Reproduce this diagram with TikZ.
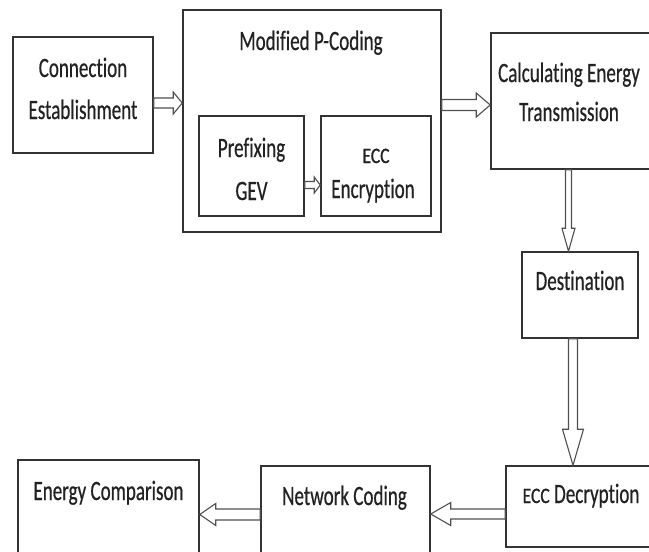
\documentclass[tikz,border=0pt]{standalone}
\usepackage{fontspec}
\setmainfont{Carlito}[FakeStretch=0.68, FakeBold=0.5, Ligatures=NoCommon]
\newfontfamily\eccfont{Carlito}[FakeStretch=0.8, FakeBold=0.9, Ligatures=NoCommon]
\usetikzlibrary{calc}
\definecolor{boxline}{HTML}{333333}
\definecolor{arrline}{HTML}{505050}
\definecolor{txtcol}{HTML}{222222}
\tikzset{
  box/.style={draw=boxline, line width=1.5pt, rectangle, inner sep=0pt},
  txt/.style={anchor=base, inner sep=0pt, text=txtcol, font=\fontsize{28}{34}\selectfont},
  blockarrow/.style={draw=arrline, fill=white, line width=1.1pt, line join=miter},
}
\newcommand\eccw{{\eccfont\fontsize{22}{26}\selectfont ECC}}
% #1 start, #2 tip, #3 shaft half width, #4 head half width, #5 head length
\newcommand\blockarr[5]{%
  \coordinate (hb) at ($(#2)!#5!(#1)$);
  \draw[blockarrow] ($(#1)!#3!90:(#2)$) -- ($(hb)!#3!-90:(#1)$) -- ($(hb)!#4!-90:(#1)$)
    -- (#2) -- ($(hb)!#4!90:(#1)$) -- ($(hb)!#3!90:(#1)$) -- ($(#1)!#3!-90:(#2)$) -- cycle;
}
\begin{document}
\begin{tikzpicture}[x=1pt,y=-1pt]
\useasboundingbox (0,0) rectangle (649,552);
\clip (0,0) rectangle (649,552);
\fill[white] (0,0) rectangle (649,552);

% boxes
\node[box, minimum width=140pt, minimum height=116pt] (ce) at (83,95) {};
\node[box, minimum width=258pt, minimum height=222pt] (mpc) at (312,121) {};
\node[box, minimum width=105pt, minimum height=100pt] (pg) at (251.5,166) {};
\node[box, minimum width=110pt, minimum height=100pt] (ee) at (376,166) {};
\node[box, minimum width=160pt, minimum height=136pt] (cet) at (571,101) {};
\node[box, minimum width=116pt, minimum height=86pt] (dest) at (580,295) {};
\node[box, minimum width=152pt, minimum height=81pt] (dec) at (582,506.5) {};
\node[box, minimum width=169pt, minimum height=100pt] (nc) at (345.5,516) {};
\node[box, minimum width=181pt, minimum height=106pt] (ec) at (108.5,513) {};

% texts
\node[txt] (ce1) at (83,77) {Connection};
\node[txt] (ce2) at (83,119) {Establishment};
\node[txt] (mpc1) at (311,50) {Modified P-Coding};
\node[txt] (pg1) at (251.5,157) {Prefixing};
\node[txt] (pg2) at (251.5,200) {GEV};
\node[txt] (ee1) at (376,163) {\eccw};
\node[txt] (ee2) at (373,198) {Encryption};
\node[txt] (cet1) at (569,82) {Calculating Energy};
\node[txt] (cet2) at (569,121) {Transmission};
\node[txt] (dest1) at (580,290) {Destination};
\node[txt] (dec1) at (581,503) {\eccw\ Decryption};
\node[txt] (nc1) at (344.5,505) {Network Coding};
\node[txt] (ec1) at (108.5,500) {Energy Comparison};

% helper levels
\coordinate (l1) at (0,103);
\coordinate (l2) at (0,105);
\coordinate (l3) at (0,185);
\coordinate (l4) at (568.5,0);
\coordinate (l5) at (573,0);
\coordinate (l6) at (0,514);
\coordinate (l7) at (0,514.5);

\coordinate (a1s) at (ce.east |- l1);   \coordinate (a1e) at (mpc.west |- l1);
\coordinate (a2s) at (mpc.east |- l2);  \coordinate (a2e) at (cet.west |- l2);
\coordinate (a3s) at (pg.east |- l3);   \coordinate (a3e) at (ee.west |- l3);
\coordinate (a4s) at (l4 |- cet.south); \coordinate (a4e) at (l4 |- dest.north);
\coordinate (a5s) at (l5 |- dest.south);\coordinate (a5e) at (l5 |- dec.north);
\coordinate (a6s) at (dec.west |- l6);  \coordinate (a6e) at (nc.east |- l6);
\coordinate (a7s) at (nc.west |- l7);   \coordinate (a7e) at (ec.east |- l7);

\blockarr{a1s}{a1e}{5pt}{11pt}{9pt}
\blockarr{a2s}{a2e}{5.5pt}{12pt}{14pt}
\blockarr{a3s}{a3e}{3.5pt}{8pt}{6pt}
\blockarr{a4s}{a4e}{3pt}{6.5pt}{23pt}
\blockarr{a5s}{a5e}{4.5pt}{10.5pt}{36pt}
\blockarr{a6s}{a6e}{5pt}{11.5pt}{20pt}
\blockarr{a7s}{a7e}{5.5pt}{11pt}{16pt}
\end{tikzpicture}
\end{document}
